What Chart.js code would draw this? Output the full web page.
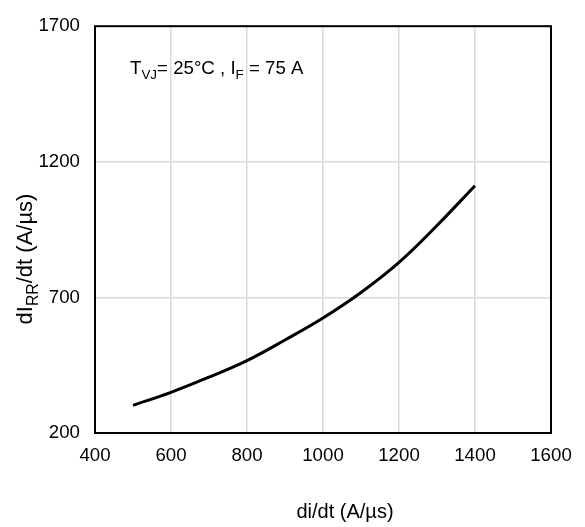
<!DOCTYPE html>
<html>
<head>
<meta charset="utf-8">
<script src="https://cdn.jsdelivr.net/npm/chart.js@4.4.1/dist/chart.umd.min.js"></script>
<style>
html,body{margin:0;padding:0;background:#fff;}
#wrap{width:585px;height:527px;}
</style>
</head>
<body>
<div id="wrap"><canvas id="c" width="585" height="527"></canvas></div>
<script>
const diDt = [500, 600, 700, 800, 900, 1000, 1100, 1200, 1300, 1400];
const dIrrDt = [302, 350, 406, 467, 543, 624, 718, 829, 965, 1112];
const xTicks = [400, 600, 800, 1000, 1200, 1400, 1600];
const yTicks = [200, 700, 1200, 1700];
const xTitle = 'di/dt (A/µs)';
const annotation = [['T', ''], ['VJ', 'sub'], ['= 25°C , I', ''], ['F', 'sub'], [' = 75 A', '']];
const yTitle = [['dI', ''], ['RR', 'sub'], ['/dt (A/µs)', '']];

const FONT = '"Liberation Sans", Arial, sans-serif';
const FS = 18.67;

function drawRich(ctx, parts, x, y, size) {
  let cx = x;
  for (const [t, kind] of parts) {
    if (kind === 'sub') {
      ctx.font = (size * 0.72) + 'px ' + FONT;
      ctx.fillText(t, cx, y + size * 0.25);
    } else {
      ctx.font = size + 'px ' + FONT;
      ctx.fillText(t, cx, y);
    }
    cx += ctx.measureText(t).width;
  }
  return cx - x;
}
function richWidth(ctx, parts, size) {
  let w = 0;
  for (const [t, kind] of parts) {
    ctx.font = (kind === 'sub' ? size * 0.72 : size) + 'px ' + FONT;
    w += ctx.measureText(t).width;
  }
  return w;
}

const decor = {
  id: 'decor',
  afterDatasetsDraw(chart) {
    const ctx = chart.ctx, a = chart.chartArea;
    ctx.save();
    ctx.strokeStyle = '#000';
    ctx.lineWidth = 2;
    ctx.strokeRect(a.left, a.top, a.right - a.left, a.bottom - a.top);
    ctx.fillStyle = '#000';
    ctx.textBaseline = 'alphabetic';
    ctx.textAlign = 'left';
    drawRich(ctx, annotation, 130, 74, FS);
    // x title
    ctx.font = '20px ' + FONT;
    ctx.textAlign = 'center';
    ctx.fillText(xTitle, 345, 518);
    // y title rotated
    ctx.textAlign = 'left';
    const ys = 22;
    const w = richWidth(ctx, yTitle, ys);
    ctx.translate(32, 259);
    ctx.rotate(-Math.PI / 2);
    drawRich(ctx, yTitle, -w / 2, 0, ys);
    ctx.restore();
  }
};

new Chart(document.getElementById('c'), {
  type: 'line',
  data: {
    datasets: [{
      data: diDt.map((x, i) => ({x, y: dIrrDt[i]})),
      borderColor: '#000',
      borderWidth: 3,
      pointRadius: 0,
      fill: false,
      tension: 0.4
    }]
  },
  options: {
    responsive: false,
    animation: false,
    devicePixelRatio: 1,
    layout: {padding: {top: 12, right: 34, left: 0, bottom: 0}},
    plugins: {legend: {display: false}, tooltip: {enabled: false}},
    scales: {
      x: {
        type: 'linear', min: 400, max: 1600,
        afterBuildTicks: s => { s.ticks = xTicks.map(v => ({value: v})); },
        afterFit: s => { s.height = 94; },
        border: {display: false},
        grid: {color: '#d9d9d9', lineWidth: 1.5, drawTicks: false},
        ticks: {color: '#000', font: {family: FONT, size: FS}, padding: 12, maxRotation: 0,
                callback: v => String(v)}
      },
      y: {
        type: 'linear', min: 200, max: 1700,
        afterBuildTicks: s => { s.ticks = yTicks.map(v => ({value: v})); },
        afterFit: s => { s.width = 95; },
        border: {display: false},
        grid: {color: '#d9d9d9', lineWidth: 1.5, drawTicks: false},
        ticks: {color: '#000', font: {family: FONT, size: FS}, padding: 15,
                callback: v => String(v)}
      }
    }
  },
  plugins: [decor]
});
</script>
</body>
</html>
